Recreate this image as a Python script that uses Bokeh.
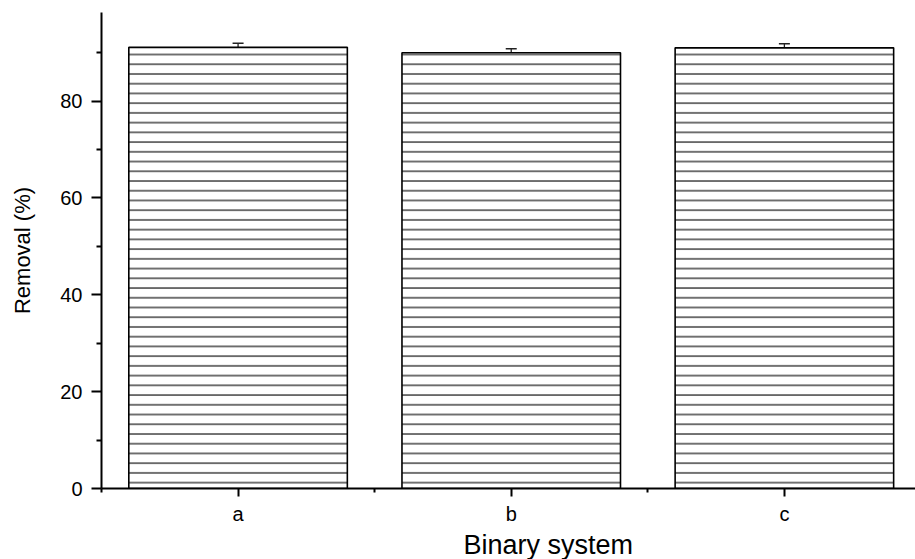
from bokeh.plotting import figure
from bokeh.models import ColumnDataSource, FixedTicker, Range1d, Whisker, TeeHead, Title
from bokeh.embed import file_html
from bokeh.resources import INLINE

categories = ["a", "b", "c"]
removal = [91.1, 90.0, 91.0]
error = [0.85, 0.8, 0.85]
y_ticks = [0, 20, 40, 60, 80]
y_minor = [10, 30, 50, 70, 90]
x_title = "Binary system"
y_title = "Removal (%)"

xpos = [i + 1 for i in range(len(categories))]
src = ColumnDataSource(dict(
    x=xpos, top=removal,
    upper=[v + e for v, e in zip(removal, error)],
    lower=[v - e for v, e in zip(removal, error)],
))

p = figure(width=915, height=559, output_backend="svg", toolbar_location=None,
           x_range=Range1d(0.5, 3.48), y_range=Range1d(0, 98.3),
           min_border_left=101, min_border_right=0, min_border_top=12, min_border_bottom=0)
p.outline_line_color = None
p.xgrid.visible = False
p.ygrid.visible = False
p.background_fill_color = "white"

p.vbar(x="x", top="top", width=0.8, source=src, fill_color="white",
       line_color="black", line_width=1.6,
       hatch_pattern="horizontal_line", hatch_scale=9.73, hatch_color="black", hatch_weight=1.1)

w = Whisker(source=src, base="x", upper="upper", lower="lower",
            line_color="#222222", line_width=1.3,
            upper_head=TeeHead(size=11, line_color="#222222", line_width=1.5),
            lower_head=TeeHead(size=11, line_color="#444444", line_width=1.5))
p.add_layout(w)

font = "Liberation Sans"
for ax in (p.xaxis[0], p.yaxis[0]):
    ax.axis_line_width = 2
    ax.axis_line_color = "black"
    ax.major_tick_line_width = 2
    ax.minor_tick_line_width = 2
    ax.major_tick_in = 0
    ax.minor_tick_in = 0
    ax.major_label_text_font = font
    ax.major_label_text_font_size = "20px"
    ax.major_label_text_color = "black"
    ax.axis_label_text_font = font
    ax.axis_label_text_font_style = "normal"
    ax.axis_label_text_color = "black"

p.yaxis.ticker = FixedTicker(ticks=y_ticks, minor_ticks=y_minor)
p.yaxis.major_tick_out = 10
p.yaxis.minor_tick_out = 5
p.yaxis.major_label_standoff = 9
p.yaxis.axis_label = y_title
p.yaxis.axis_label_text_font_size = "22px"
p.yaxis.axis_label_standoff = 22

p.xaxis.ticker = FixedTicker(ticks=xpos, minor_ticks=[0.5, 1.5, 2.5, 3.5])
p.xaxis.major_label_overrides = {x: c for x, c in zip(xpos, categories)}
p.xaxis.major_tick_out = 8
p.xaxis.minor_tick_out = 4
p.xaxis.major_label_standoff = 6

xt = Title(text=x_title, align="left", offset=362, text_font=font,
           text_font_size="27px", text_font_style="normal", text_color="black",
           standoff=0)
p.add_layout(xt, "below")

open("out.html", "w").write(file_html(p, INLINE))
